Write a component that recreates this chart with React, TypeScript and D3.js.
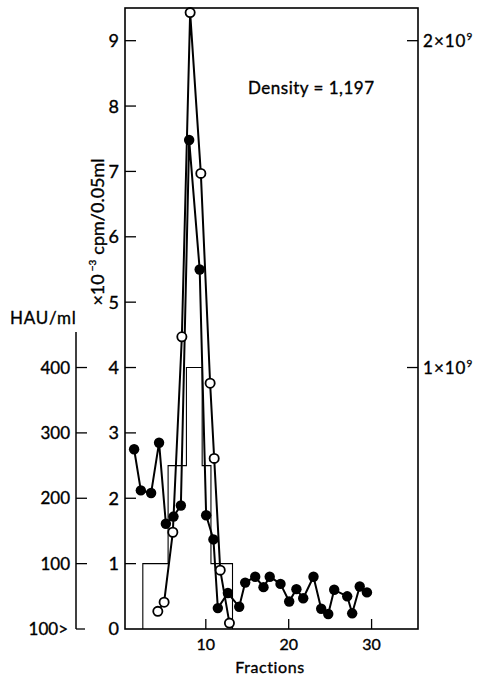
import React from 'react';
import * as d3 from 'd3';

// Filled circles: ×10^-3 cpm / 0.05 ml
const filledFractions = [1.35, 2.16, 3.4, 4.36, 5.18, 6.1, 6.99, 7.99, 9.26, 10.04, 10.92, 11.45, 12.66, 14.03, 14.75, 15.96, 16.96, 17.71, 19.01, 20.06, 20.93, 21.75, 22.99, 23.92, 24.77, 25.49, 27.06, 27.66, 28.57, 29.44];
const filledCpm = [2.75, 2.12, 2.08, 2.85, 1.61, 1.72, 1.89, 7.48, 5.5, 1.74, 1.37, 0.32, 0.55, 0.34, 0.71, 0.8, 0.64, 0.8, 0.69, 0.42, 0.61, 0.47, 0.8, 0.31, 0.23, 0.6, 0.5, 0.24, 0.65, 0.56];

// Open circles (right axis, same plotted scale)
const openFractions = [4.21, 4.97, 6.02, 7.11, 8.11, 9.4, 10.52, 11.01, 11.74, 12.85];
const openCpm = [0.27, 0.41, 1.48, 4.47, 9.43, 6.97, 3.76, 2.61, 0.9, 0.09];

// HAU/ml step histogram
const hauEdges = [2.4, 5.45, 7.66, 9.56, 10.62, 13.22];
const hauValues = [100, 250, 400, 250, 100];

const cpmTicks = [0, 1, 2, 3, 4, 5, 6, 7, 8, 9];
const hauTicks = [400, 300, 200, 100];
const hauBottomLabel = '100>';
const fractionTicks = [10, 20, 30];
const particleTicks = [1e9, 2e9];
const particleMantissa = ['1', '2'];

const FONT = 'Lato, "Open Sans", sans-serif';

export default function App() {
  const W = 479, H = 678;
  const left = 125, right = 418, top = 8, bottom = 629;
  const hauAxisX = 76;

  const x = d3.scaleLinear().domain([0.25, 35.6]).range([left, right]);
  const y = d3.scaleLinear().domain([0, 9.5]).range([bottom, top]);
  const yHau = d3.scaleLinear().domain([0, 950]).range([bottom, top]);
  const yPart = d3.scaleLinear().domain([1e9, 2e9]).range([y(4), y(9)]);

  const line = d3.line<[number, number]>().x(d => x(d[0])).y(d => y(d[1]));
  const filledPts: [number, number][] = filledFractions.map((f, i) => [f, filledCpm[i]]);
  const openPts: [number, number][] = openFractions.map((f, i) => [f, openCpm[i]]);

  const stepPts: [number, number][] = [[hauEdges[0], 0]];
  hauValues.forEach((v, i) => stepPts.push([hauEdges[i], v]));
  stepPts.push([hauEdges[hauEdges.length - 1], 0]);
  const stepLine = d3.line<[number, number]>()
    .x(d => x(d[0]))
    .y(d => yHau(d[1]))
    .curve(d3.curveStepAfter);

  const txt = { fill: '#000', stroke: '#000', strokeWidth: 0.35 };

  return (
    <svg width={W} height={H} style={{ position: 'absolute', left: 0, top: 0, background: '#fff' }} fontFamily={FONT}>
      <rect x={0} y={0} width={W} height={H} fill="#fff" />
      {/* frame */}
      <rect x={left} y={top} width={right - left} height={bottom - top} fill="none" stroke="#000" strokeWidth={1.6} />

      {/* left cpm ticks */}
      {cpmTicks.map(t => (
        <g key={'c' + t}>
          {t > 0 && <line x1={left} x2={left + 11} y1={y(t)} y2={y(t)} stroke="#000" strokeWidth={1.3} />}
          <text x={119} y={y(t)} dy="0.36em" textAnchor="end" fontSize={18} {...txt}>{t}</text>
        </g>
      ))}

      {/* HAU axis */}
      <line x1={hauAxisX} x2={hauAxisX} y1={332} y2={bottom} stroke="#000" strokeWidth={1.5} />
      <line x1={hauAxisX} x2={hauAxisX + 9} y1={yHau(0)} y2={yHau(0)} stroke="#000" strokeWidth={1.3} />
      {hauTicks.map(t => (
        <g key={'h' + t}>
          <line x1={hauAxisX} x2={hauAxisX + 11} y1={yHau(t)} y2={yHau(t)} stroke="#000" strokeWidth={1.3} />
          <text x={70} y={yHau(t)} dy="0.36em" textAnchor="end" fontSize={17} {...txt}>{t}</text>
        </g>
      ))}
      <text x={68} y={yHau(0)} dy="0.36em" textAnchor="end" fontSize={17} {...txt}>{hauBottomLabel}</text>
      <text x={10} y={318} dy="0.36em" fontSize={17} {...txt} letterSpacing={0.8}>HAU/ml</text>

      {/* rotated cpm label */}
      <text transform={`translate(104,232) rotate(-90)`} textAnchor="middle" fontSize={18} {...txt}>
        ×10<tspan fontSize={10} dy={-8} dx={3}>−3</tspan><tspan dy={8} dx={5}>cpm/0.05ml</tspan>
      </text>

      {/* right axis */}
      {particleTicks.map((t, i) => (
        <g key={'p' + t}>
          <line x1={right - 11} x2={right} y1={yPart(t)} y2={yPart(t)} stroke="#000" strokeWidth={1.3} />
          <text x={423} y={yPart(t)} dy="0.36em" fontSize={17} letterSpacing={1} {...txt}>
            {particleMantissa[i]}×10<tspan fontSize={10} dy={-7}>9</tspan>
          </text>
        </g>
      ))}

      {/* bottom axis */}
      {fractionTicks.map(t => (
        <g key={'f' + t}>
          <line x1={x(t)} x2={x(t)} y1={bottom} y2={bottom - 10} stroke="#000" strokeWidth={1.3} />
          <text x={x(t)} y={650} textAnchor="middle" fontSize={16} {...txt}>{t}</text>
        </g>
      ))}
      <text x={270} y={673} textAnchor="middle" fontSize={16} letterSpacing={0.6} {...txt}>Fractions</text>

      <text x={248} y={94} fontSize={17} letterSpacing={0.5} {...txt}>Density = 1,197</text>

      {/* step histogram */}
      <path d={stepLine(stepPts) || ''} fill="none" stroke="#000" strokeWidth={1.1} />

      {/* series lines */}
      <path d={line(filledPts) || ''} fill="none" stroke="#000" strokeWidth={2} strokeLinejoin="round" />
      <path d={line(openPts) || ''} fill="none" stroke="#000" strokeWidth={2} strokeLinejoin="round" />

      {filledPts.map((d, i) => (
        <circle key={'fp' + i} cx={x(d[0])} cy={y(d[1])} r={5.2} fill="#000" />
      ))}
      {openPts.map((d, i) => (
        <circle key={'op' + i} cx={x(d[0])} cy={y(d[1])} r={4.6} fill="#fff" stroke="#000" strokeWidth={1.8} />
      ))}
    </svg>
  );
}
